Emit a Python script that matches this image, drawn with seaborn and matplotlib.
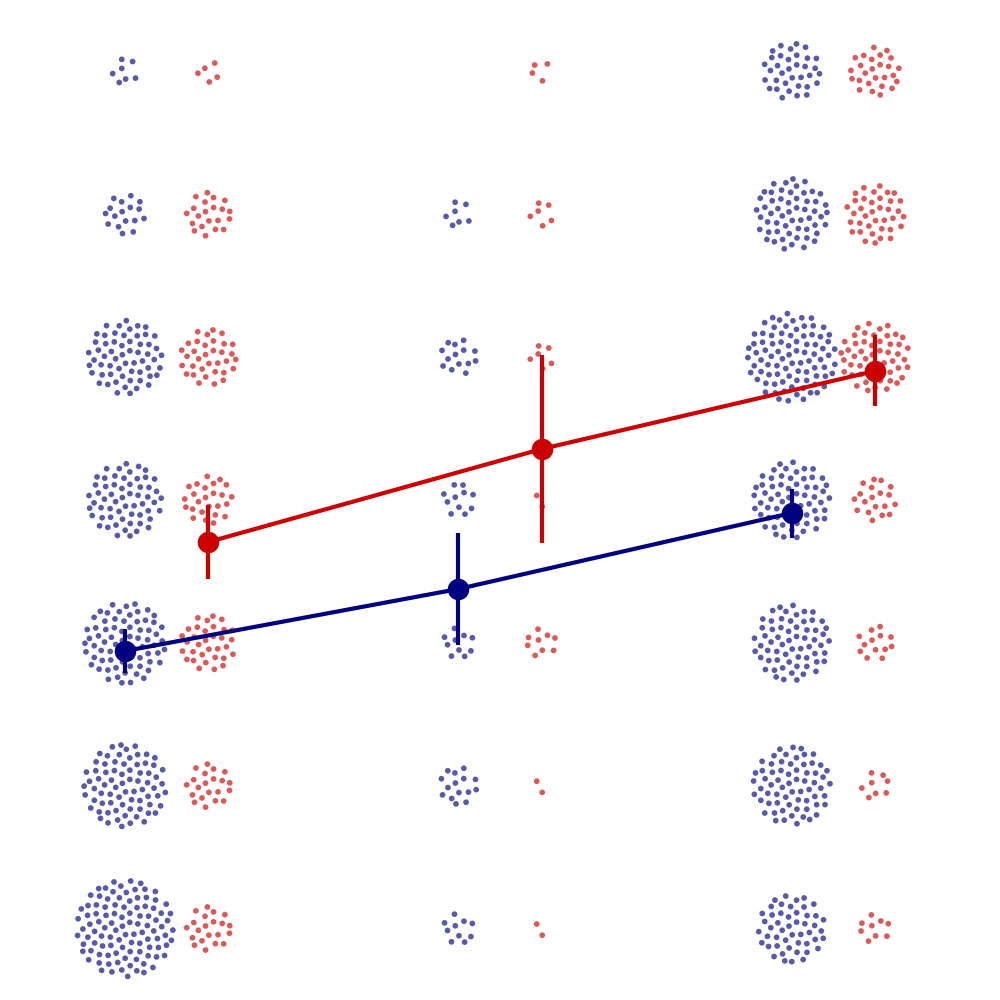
import numpy as np
import pandas as pd
import matplotlib
matplotlib.use("Agg")
import matplotlib.pyplot as plt
import seaborn as sns

# rating levels top to bottom, and how many dots each column has per level
niveis = [7, 6, 5, 4, 3, 2, 1]
grupos = [1, 2, 3]

azul_g1 = [7, 17, 60, 59, 72, 75, 103]
verm_g1 = [5, 21, 34, 25, 33, 21, 21]
azul_g2 = [0, 7, 14, 11, 10, 15, 10]
verm_g2 = [4, 6, 6, 2, 9, 2, 2]
azul_g3 = [35, 56, 86, 64, 63, 66, 49]
verm_g3 = [26, 37, 52, 19, 13, 8, 9]

# means and error bars
media_azul = [2.943, 3.377, 3.909]
inf_azul = [2.789, 2.985, 3.734]
sup_azul = [3.097, 3.769, 4.077]
media_verm = [3.706, 4.357, 4.903]
inf_verm = [3.447, 3.699, 4.658]
sup_verm = [3.965, 5.015, 5.155]

COR_AZUL = "#000080"
COR_VERM = "#cc0000"
DX = 0.125
PX_X = 1000 / 3.0   # pixels per x unit
PX_Y = 1000 / 7.0   # pixels per y unit
PASSO = 4.72        # cluster radius = PASSO * sqrt(n), in pixels


def girassol(n):
    # sunflower layout with a smoothed boundary (alpha = 2)
    if n == 0:
        return np.array([]), np.array([])
    k = np.arange(1, n + 1)
    b = round(2 * np.sqrt(n))
    r = np.ones(n)
    if n > b:
        interno = k <= n - b
        r[interno] = np.sqrt(k[interno] - 0.5) / np.sqrt(n - (b + 1) / 2)
    theta = k * np.deg2rad(137.508)
    raio = PASSO * np.sqrt(n)
    return raio * r * np.cos(theta), raio * r * np.sin(theta)


linhas = []
colunas = [("azul", azul_g1, azul_g2, azul_g3, -DX), ("verm", verm_g1, verm_g2, verm_g3, DX)]
for serie, g1, g2, g3, dx in colunas:
    for grupo, contagens in zip(grupos, [g1, g2, g3]):
        for nivel, n in zip(niveis, contagens):
            px, py = girassol(n)
            for a, b in zip(px, py):
                linhas.append({"x": grupo + dx + a / PX_X, "y": nivel + b / PX_Y, "serie": serie})
df_pontos = pd.DataFrame(linhas)

df_medias = pd.DataFrame({
    "x": [g - DX for g in grupos] + [g + DX for g in grupos],
    "y": media_azul + media_verm,
    "inf": inf_azul + inf_verm,
    "sup": sup_azul + sup_verm,
    "serie": ["azul"] * 3 + ["verm"] * 3,
})

sns.set_theme(style="white")
paleta = {"azul": COR_AZUL, "verm": COR_VERM}

fig = plt.figure(figsize=(10, 10), dpi=100)
ax = fig.add_axes([0, 0, 1, 1])

sns.scatterplot(data=df_pontos, x="x", y="y", hue="serie", palette=paleta, s=17,
                alpha=0.65, linewidth=0, legend=False, ax=ax, zorder=2)
sns.lineplot(data=df_medias, x="x", y="y", hue="serie", palette=paleta, linewidth=3,
             marker="o", markersize=15.5, markeredgewidth=0, errorbar=None,
             legend=False, ax=ax, zorder=3)
for serie, parte in df_medias.groupby("serie"):
    ax.vlines(parte["x"], parte["inf"], parte["sup"], color=paleta[serie], linewidth=3, zorder=3)

ax.set_xlim(0.5, 3.5)
ax.set_ylim(0.5, 7.5)
ax.axis("off")

fig.savefig("out.png", dpi=100, facecolor="white")
plt.close(fig)
